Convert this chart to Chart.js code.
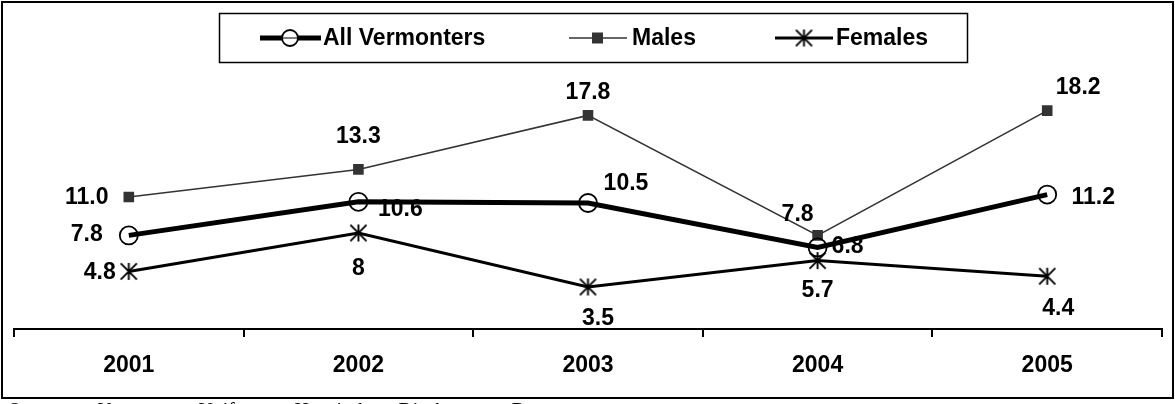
<!DOCTYPE html>
<html>
<head>
<meta charset="utf-8">
<script src="https://cdn.jsdelivr.net/npm/chart.js@4/dist/chart.umd.min.js"></script>
<style>
  html, body { margin: 0; padding: 0; background: #fff; }
  #wrap { position: relative; width: 1175px; height: 404px; }
</style>
</head>
<body>
<div id="wrap"><canvas id="chart" width="1175" height="404"></canvas></div>
<script>
// Data
const years = ['2001', '2002', '2003', '2004', '2005'];
const allVermonters = [7.8, 10.6, 10.5, 6.8, 11.2];
const males = [11.0, 13.3, 17.8, 7.8, 18.2];
const females = [4.8, 8, 3.5, 5.7, 4.4];
const allLabels = ['7.8', '10.6', '10.5', '6.8', '11.2'];
const maleLabels = ['11.0', '13.3', '17.8', '7.8', '18.2'];
const femaleLabels = ['4.8', '8', '3.5', '5.7', '4.4'];

// label placement (pixel offset from the point)
const allOffsets = [[-42, -2], [42, 7], [38, -20], [30, -2], [46, 2]];
const maleOffsets = [[-42, 0], [0, -34], [0, -24], [-20, -22], [31, -24]];
const femaleOffsets = [[-29, 0], [0, 35], [10, 31], [0, 29], [11, 31]];

const FONT = '"Liberation Sans", Arial, sans-serif';

function makeAsterisk(size, lw) {
    const c = document.createElement('canvas');
    c.width = size; c.height = size;
    const g = c.getContext('2d');
    const m = size / 2, r = size / 2 - 1;
    g.strokeStyle = '#000';
    g.lineWidth = lw;
    g.beginPath();
    g.moveTo(m, m - r); g.lineTo(m, m + r);
    g.moveTo(m - r * 0.95, m - r * 0.95); g.lineTo(m + r * 0.95, m + r * 0.95);
    g.moveTo(m + r * 0.95, m - r * 0.95); g.lineTo(m - r * 0.95, m + r * 0.95);
    g.stroke();
    return c;
}
const asterisk = makeAsterisk(19, 1.9);

const frameAndLegend = {
    id: 'frameAndLegend',
    beforeDraw(chart) {
        const ctx = chart.ctx;
        ctx.save();
        ctx.fillStyle = '#fff';
        ctx.fillRect(0, 0, chart.width, chart.height);
        ctx.restore();
    },
    afterDraw(chart) {
        const ctx = chart.ctx;
        ctx.save();
        // outer frame
        ctx.strokeStyle = '#000';
        ctx.lineWidth = 2;
        ctx.strokeRect(2, 2, 1171, 396);

        // legend box
        ctx.lineWidth = 1.5;
        ctx.strokeRect(219.5, 13.5, 748, 49);
        const ly = 38;
        ctx.font = 'bold 23px ' + FONT;
        ctx.fillStyle = '#000';
        ctx.textBaseline = 'middle';
        ctx.textAlign = 'left';

        // All Vermonters
        ctx.strokeStyle = '#000';
        ctx.lineWidth = 5;
        ctx.beginPath(); ctx.moveTo(260, ly); ctx.lineTo(321, ly); ctx.stroke();
        ctx.lineWidth = 1.8;
        ctx.fillStyle = '#fff';
        ctx.beginPath(); ctx.arc(290, ly, 8, 0, Math.PI * 2); ctx.fill(); ctx.stroke();
        ctx.lineWidth = 1;
        ctx.beginPath(); ctx.moveTo(282, ly); ctx.lineTo(298, ly); ctx.stroke();
        ctx.fillStyle = '#000';
        ctx.fillText('All Vermonters', 323, ly + 1);

        // Males
        ctx.strokeStyle = '#333';
        ctx.lineWidth = 1.5;
        ctx.beginPath(); ctx.moveTo(569, ly); ctx.lineTo(627, ly); ctx.stroke();
        ctx.fillStyle = '#333';
        ctx.fillRect(592, ly - 5.5, 11, 11);
        ctx.fillStyle = '#000';
        ctx.fillText('Males', 632, ly + 1);

        // Females
        ctx.strokeStyle = '#000';
        ctx.lineWidth = 3;
        ctx.beginPath(); ctx.moveTo(775, ly); ctx.lineTo(833, ly); ctx.stroke();
        ctx.drawImage(asterisk, 804 - 9.5, ly - 9.5);
        ctx.fillText('Females', 836, ly + 1);

        // source line (cut off at the bottom edge)
        ctx.font = 'italic 20px "Liberation Serif", "Times New Roman", serif';
        ctx.textBaseline = 'alphabetic';
        const words = ['Source:', 'Vermont', 'Uniform', 'Hospital', 'Discharge', 'Data'];
        const wx = [8, 97, 197, 293, 397, 510];
        words.forEach((w, i) => ctx.fillText(w, wx[i], 417));
        ctx.restore();
    }
};

const pointLabels = {
    id: 'pointLabels',
    afterDatasetsDraw(chart) {
        const ctx = chart.ctx;
        const sets = [
            { texts: allLabels, offs: allOffsets },
            { texts: maleLabels, offs: maleOffsets },
            { texts: femaleLabels, offs: femaleOffsets }
        ];
        ctx.save();
        ctx.font = 'bold 23px ' + FONT;
        ctx.fillStyle = '#000';
        ctx.textAlign = 'center';
        ctx.textBaseline = 'middle';
        sets.forEach((s, di) => {
            chart.getDatasetMeta(di).data.forEach((pt, i) => {
                ctx.fillText(s.texts[i], pt.x + s.offs[i][0], pt.y + s.offs[i][1] + 1);
            });
        });
        ctx.restore();
    }
};

new Chart(document.getElementById('chart'), {
    type: 'line',
    data: {
        labels: years,
        datasets: [
            {
                label: 'All Vermonters',
                data: allVermonters,
                borderColor: '#000',
                borderWidth: 5,
                pointStyle: 'circle',
                pointRadius: 9,
                pointBorderWidth: 1.8,
                pointBorderColor: '#000',
                pointBackgroundColor: 'rgba(0,0,0,0)',
                tension: 0
            },
            {
                label: 'Males',
                data: males,
                borderColor: '#333',
                borderWidth: 1.5,
                pointStyle: 'rect',
                pointRadius: 7.5,
                pointBorderWidth: 0,
                pointBackgroundColor: '#333',
                tension: 0
            },
            {
                label: 'Females',
                data: females,
                borderColor: '#000',
                borderWidth: 3,
                pointStyle: asterisk,
                pointRadius: 9,
                tension: 0
            }
        ]
    },
    options: {
        responsive: false,
        animation: false,
        layout: { padding: { left: 14, right: 13, top: 17, bottom: 0 } },
        plugins: {
            legend: { display: false },
            tooltip: { enabled: false }
        },
        scales: {
            x: {
                offset: true,
                grid: {
                    display: true,
                    offset: true,
                    drawOnChartArea: false,
                    drawTicks: true,
                    tickLength: 8,
                    color: '#000',
                    lineWidth: 2
                },
                border: { display: true, color: '#000', width: 2 },
                ticks: {
                    color: '#000',
                    padding: 15,
                    font: { family: FONT, size: 23, weight: 'bold' }
                },
                afterFit(scale) { scale.height = 75; }
            },
            y: {
                display: false,
                min: 0,
                max: 26
            }
        }
    },
    plugins: [frameAndLegend, pointLabels]
});
</script>
</body>
</html>
